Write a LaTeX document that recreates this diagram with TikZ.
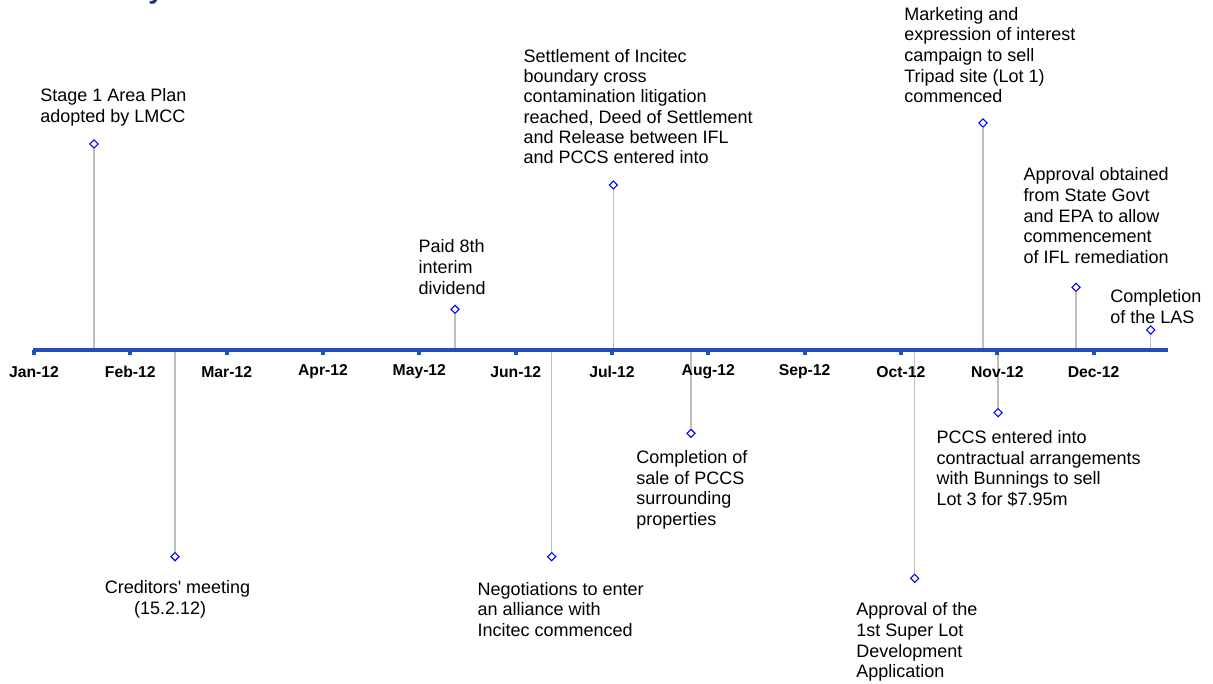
\documentclass[tikz,border=0pt]{standalone}
\usepackage{fontspec}
\newfontfamily\evfamily{Liberation Sans}
\definecolor{axisblue}{RGB}{31, 78, 189}
\definecolor{markblue}{RGB}{0, 0, 255}
\definecolor{stemgray}{RGB}{190, 190, 190}
\definecolor{titlenavy}{RGB}{31, 56, 100}
\usetikzlibrary{shapes.geometric, positioning}
\newcommand{\evfont}{\evfamily\fontsize{13.5}{15.5}\selectfont}
\newcommand{\monthfont}{\evfamily\bfseries\fontsize{11.8}{14}\selectfont}

\begin{document}
\begin{tikzpicture}[x=0.75pt, y=-0.75pt,
  evtext/.style={anchor=north west, inner sep=0pt, align=left, font=\evfont, text=black},
  marker/.style={diamond, draw=markblue, fill=white, line width=0.8pt, inner sep=0pt, minimum width=6.4pt, minimum height=6.4pt},
  stem/.style={draw=stemgray, line width=0.9pt},
  monthlabel/.style={font=\monthfont, inner sep=0pt}]
  \useasboundingbox (0, 0) rectangle (1213, 684);

  % Title (cut off at the top edge)
  \node[anchor=base west, inner sep=0pt, font=\evfamily\bfseries\fontsize{21}{25}\selectfont, text=titlenavy] (title) at (148, -1) {y};

  % Events above the axis
  \node[marker] (dStage) at (94, 144) {};
  \coordinate (aStage) at (94, 350);
  \draw[stem] (dStage) -- (aStage);
  \node[evtext] (tStage) at (40, 88.4) {Stage 1 Area Plan\\adopted by LMCC};

  \node[marker] (dDividend) at (455, 309.3) {};
  \coordinate (aDividend) at (455, 350);
  \draw[stem] (dDividend) -- (aDividend);
  \node[evtext] (tDividend) at (418.3, 239.4) {Paid 8th\\interim\\dividend};

  \node[marker] (dSettle) at (613.3, 185) {};
  \coordinate (aSettle) at (613.3, 350);
  \draw[stem] (dSettle) -- (aSettle);
  \node[evtext, font=\evfamily\fontsize{13.5}{15.1}\selectfont] (tSettle) at (523.3, 49.4) {Settlement of Incitec\\boundary cross\\contamination litigation\\reached, Deed of Settlement\\and Release between IFL\\and PCCS entered into};

  \node[marker] (dTripad) at (983, 123) {};
  \coordinate (aTripad) at (983, 350);
  \draw[stem] (dTripad) -- (aTripad);
  \node[evtext] (tTripad) at (904, 6.7) {Marketing and\\expression of interest\\campaign to sell\\Tripad site (Lot 1)\\commenced};

  \node[marker] (dEPA) at (1076, 287.3) {};
  \coordinate (aEPA) at (1076, 350);
  \draw[stem] (dEPA) -- (aEPA);
  \node[evtext] (tEPA) at (1023.3, 167.4) {Approval obtained\\from State Govt\\and EPA to allow\\commencement\\of IFL remediation};

  \node[marker] (dLAS) at (1150.7, 330) {};
  \coordinate (aLAS) at (1150.7, 350);
  \draw[stem] (dLAS) -- (aLAS);
  \node[evtext] (tLAS) at (1110, 289.4) {Completion\\of the LAS};

  % Events below the axis
  \node[marker] (dCreditors) at (175, 556.7) {};
  \coordinate (aCreditors) at (175, 350);
  \draw[stem] (aCreditors) -- (dCreditors);
  \node[evtext] (tCreditors) at (104.5, 580.1) {Creditors' meeting\\\hspace*{22pt}(15.2.12)};

  \node[marker] (dAlliance) at (551.7, 556.7) {};
  \coordinate (aAlliance) at (551.7, 350);
  \draw[stem] (aAlliance) -- (dAlliance);
  \node[evtext] (tAlliance) at (477.3, 581.7) {Negotiations to enter\\an alliance with\\Incitec commenced};

  \node[marker] (dSale) at (691, 433.3) {};
  \coordinate (aSale) at (691, 350);
  \draw[stem] (aSale) -- (dSale);
  \node[evtext] (tSale) at (636.1, 450.1) {Completion of\\sale of PCCS\\surrounding\\properties};

  \node[marker] (dSuperLot) at (914.7, 578.3) {};
  \coordinate (aSuperLot) at (914.7, 350);
  \draw[stem] (aSuperLot) -- (dSuperLot);
  \node[evtext] (tSuperLot) at (856, 602.4) {Approval of the\\1st Super Lot\\Development\\Application};

  \node[marker] (dBunnings) at (998, 412.7) {};
  \coordinate (aBunnings) at (998, 350);
  \draw[stem] (aBunnings) -- (dBunnings);
  \node[evtext] (tBunnings) at (936.4, 430.1) {PCCS entered into\\contractual arrangements\\with Bunnings to sell\\Lot 3 for \$7.95m};

  % Time axis
  \coordinate (axStart) at (33, 350);
  \coordinate (axEnd) at (1168, 350);
  \draw[axisblue, line width=3pt] (axStart) -- (axEnd);
  \foreach \m [count=\k from 0] in {Jan, Feb, Mar, Apr, May, Jun, Jul, Aug, Sep, Oct, Nov, Dec} {
    \fill[axisblue] ({34+96.33*\k-2}, 350) rectangle ({34+96.33*\k+2}, 355);
    \node[monthlabel] (m\k) at ({34+96.33*\k}, 371.7) {\m-12};
  }
\end{tikzpicture}
\end{document}
